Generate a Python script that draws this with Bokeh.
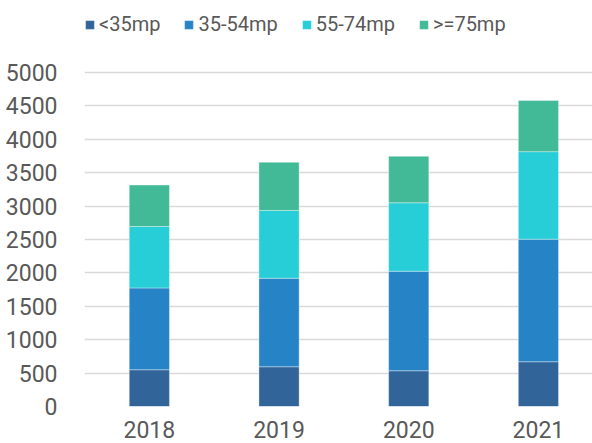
from bokeh.plotting import figure
from bokeh.models import Range1d, Legend, LegendItem, FixedTicker
from bokeh.embed import file_html
from bokeh.resources import INLINE

years = ["2018", "2019", "2020", "2021"]
series = ["<35mp", "35-54mp", "55-74mp", ">=75mp"]
lt35 = [550, 595, 535, 670]
s35_54 = [1225, 1325, 1490, 1835]
s55_74 = [920, 1015, 1025, 1310]
ge75 = [620, 720, 695, 765]
colors = ["#31659A", "#2683C6", "#27CED7", "#42BA97"]
y_ticks = [0, 500, 1000, 1500, 2000, 2500, 3000, 3500, 4000, 4500, 5000]

FONT = "Roboto"
TC = "#595959"

xpos = list(range(len(years)))
data = {"x": xpos, series[0]: lt35, series[1]: s35_54, series[2]: s55_74, series[3]: ge75}

# frame spans the full top so the legend fits inside; 5000 sits ~72px below top
p = figure(width=592, height=443, output_backend="svg", toolbar_location=None,
           x_range=Range1d(-0.5, 3.417), y_range=Range1d(0, 6078),
           min_border_left=84, min_border_right=0, min_border_top=0, min_border_bottom=37)
p.outline_line_color = None

rs = p.vbar_stack(series, x="x", width=0.31, source=data, color=colors,
                  line_color="white", line_width=0.6, line_alpha=0.6)

p.xaxis.ticker = FixedTicker(ticks=xpos)
p.xaxis.major_label_overrides = {i: y for i, y in enumerate(years)}
p.yaxis.ticker = FixedTicker(ticks=y_ticks)
for ax in (p.xaxis[0], p.yaxis[0]):
    ax.axis_line_color = None
    ax.major_tick_line_color = None
    ax.minor_tick_line_color = None
    ax.major_label_text_font = FONT
    ax.major_label_text_font_size = "23px"
    ax.major_label_text_color = TC
p.yaxis.major_label_standoff = 21
p.xaxis.major_label_standoff = 8

p.xgrid.grid_line_color = None
p.ygrid.grid_line_color = "#D9D9D9"
p.ygrid.grid_line_width = 1.5

legend = Legend(items=[LegendItem(label=s, renderers=[r]) for s, r in zip(series, rs)],
                orientation="horizontal", location=(0, 370),
                glyph_width=11, glyph_height=11, label_standoff=4, spacing=23,
                padding=0, margin=0, border_line_color=None, background_fill_alpha=0,
                label_text_font=FONT, label_text_font_size="20px", label_text_color=TC)
p.add_layout(legend, "center")

open("out.html", "w").write(file_html(p, INLINE))
